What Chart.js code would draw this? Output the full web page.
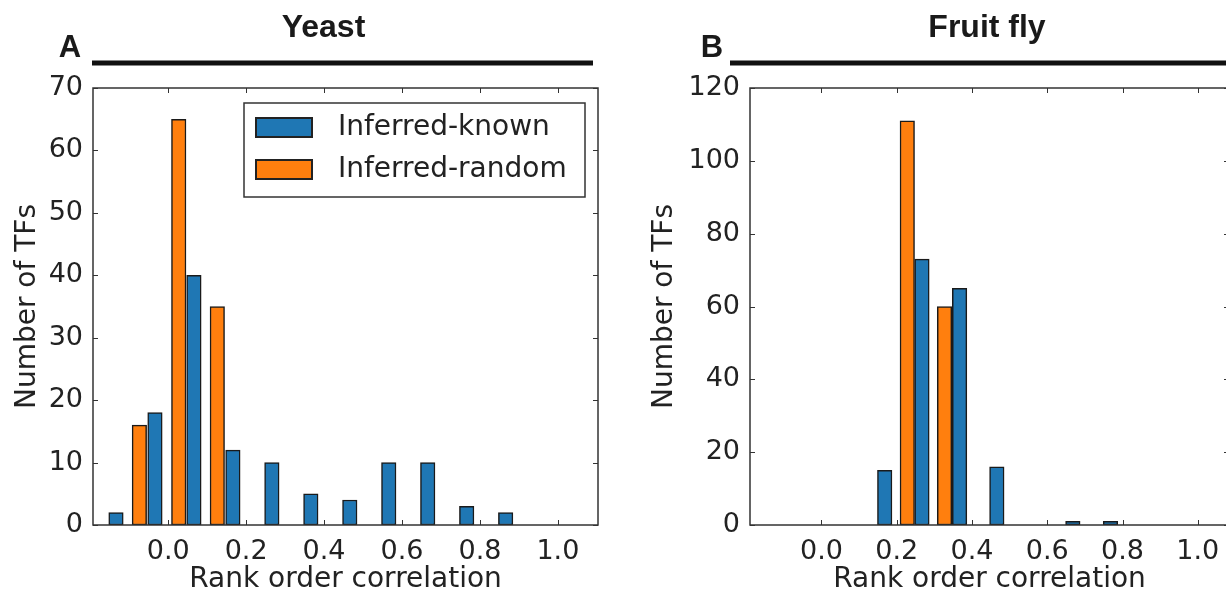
<!DOCTYPE html>
<html><head><meta charset="utf-8">
<script src="https://cdn.jsdelivr.net/npm/chart.js@4/dist/chart.umd.min.js"></script>
<style>
html,body{margin:0;padding:0;background:#fff;width:1226px;height:594px;overflow:hidden;}
#wrap{position:relative;width:1226px;height:594px;overflow:hidden;}
#cA{position:absolute;left:0;top:0;}
#cB{position:absolute;left:615px;top:0;}
</style></head><body>
<div id="wrap"><canvas id="cA" width="615" height="594"></canvas><canvas id="cB" width="626" height="594"></canvas></div>
<script>
// ---- data ----
const seriesNames = ['Inferred-known', 'Inferred-random'];
const seriesColors = ['#1f77b4', '#ff7f0e'];
const yeastKnownX = [-0.134, -0.034, 0.066, 0.166, 0.266, 0.366, 0.466, 0.566, 0.666, 0.766, 0.866];
const yeastKnownY = [2, 18, 40, 12, 10, 5, 4, 10, 10, 3, 2];
const yeastRandomX = [-0.074, 0.027, 0.126];
const yeastRandomY = [16, 65, 35];
const flyKnownX = [0.168, 0.267, 0.367, 0.466, 0.668, 0.768];
const flyKnownY = [15, 73, 65, 16, 1, 1];
const flyRandomX = [0.228, 0.327];
const flyRandomY = [111, 60];
const xTickValues = [0.0, 0.2, 0.4, 0.6, 0.8, 1.0];
const yeastYTicks = [0, 10, 20, 30, 40, 50, 60, 70];
const flyYTicks = [0, 20, 40, 60, 80, 100, 120];

const FONT = "'DejaVu Sans', sans-serif";
const BOLD = "'Liberation Sans', Arial, sans-serif";
const TXT = '#222';
const AXC = '#333';

function makeSwatch(color) {
  const c = document.createElement('canvas');
  c.width = 58; c.height = 21;
  const g = c.getContext('2d');
  g.fillStyle = color; g.fillRect(0, 0, 58, 21);
  g.strokeStyle = '#222'; g.lineWidth = 2; g.strokeRect(1, 1, 56, 19);
  return c;
}

function pts(xs, ys) { return xs.map((x, i) => ({x: x, y: ys[i]})); }

function makePanel(canvasId, p) {
  const canvas = document.getElementById(canvasId);
  const swatches = seriesColors.map(makeSwatch);
  const panelPlugin = {
    id: 'panelDeco',
    afterLayout(chart) {
      chart.boxes.forEach(b => {
        if (!b.options || b.options.labels) return;
        if (b.options.text === p.title) {
          b.left = p.titleX - 200; b.right = p.titleX + 200; b.width = 400;
          b.top = p.titleCY - b.height / 2; b.bottom = b.top + b.height;
        } else if (b.options.text === p.letter) {
          b.left = p.letterX - 40; b.right = p.letterX + 40; b.width = 80;
          b.top = p.letterCY - b.height / 2; b.bottom = b.top + b.height;
        }
      });
      if (p.legend && chart.legend) {
        const L = chart.legend;
        L.left = p.legend.x - 14; L.top = p.legend.y; L.right = p.legend.x + 360; L.bottom = p.legend.y + 200;
        L.width = L.right - L.left; L.height = L.bottom - L.top;
      }
    },
    afterDraw(chart) {
      const ctx = chart.ctx;
      const {left, right, top, bottom} = chart.chartArea;
      const xs = chart.scales.x, ys = chart.scales.y;
      ctx.save();
      // title rule
      ctx.strokeStyle = '#111'; ctx.lineWidth = 5; ctx.lineCap = 'butt';
      ctx.beginPath(); ctx.moveTo(p.ruleX0, 63); ctx.lineTo(p.ruleX1, 63); ctx.stroke();
      // frame
      ctx.strokeStyle = AXC; ctx.lineWidth = 1.5;
      ctx.strokeRect(left, top, right - left, bottom - top);
      // inward ticks
      ctx.lineWidth = 1;
      ctx.beginPath();
      xs.ticks.forEach(t => {
        const px = Math.round(xs.getPixelForValue(t.value)) + 0.5;
        ctx.moveTo(px, bottom); ctx.lineTo(px, bottom - 5);
        ctx.moveTo(px, top); ctx.lineTo(px, top + 5);
      });
      ys.ticks.forEach(t => {
        const py = Math.round(ys.getPixelForValue(t.value)) + 0.5;
        ctx.moveTo(left, py); ctx.lineTo(left + 5, py);
        ctx.moveTo(right, py); ctx.lineTo(right - 5, py);
      });
      ctx.stroke();
      // legend frame
      if (p.legend) {
        ctx.strokeStyle = AXC; ctx.lineWidth = 1.5;
        ctx.strokeRect(p.legend.bx, p.legend.by, p.legend.bw, p.legend.bh);
      }
      ctx.restore();
    }
  };

  return new Chart(canvas, {
    type: 'bar',
    data: {
      datasets: [
        {label: seriesNames[0], data: pts(p.knownX, p.knownY), backgroundColor: seriesColors[0]},
        {label: seriesNames[1], data: pts(p.randomX, p.randomY), backgroundColor: seriesColors[1]}
      ]
    },
    options: {
      responsive: false,
      animation: false,
      devicePixelRatio: 1,
      layout: {padding: {top: 88 - 38.4 - 37.2, right: canvas.width - p.plotRight, bottom: 0, left: 0}},
      datasets: {bar: {grouped: false, barThickness: 14.5, borderWidth: 1.5, borderColor: '#1a1a1a', borderSkipped: false}},
      plugins: {
        tooltip: {enabled: false},
        title: {display: true, text: p.title, color: '#1a1a1a', font: {family: BOLD, size: 32, weight: 'bold', lineHeight: 1.2}, padding: 0},
        subtitle: {display: true, text: p.letter, color: '#1a1a1a', font: {family: BOLD, size: 31, weight: 'bold', lineHeight: 1.2}, padding: 0},
        legend: p.legend ? {
          display: true, position: 'chartArea', align: 'start',
          labels: {
            usePointStyle: true, pointStyleWidth: 80, boxHeight: 21, padding: 14, textAlign: 'left',
            color: TXT, font: {family: FONT, size: 28},
            generateLabels(chart) {
              const items = Chart.defaults.plugins.legend.labels.generateLabels(chart);
              items.forEach((it, i) => { it.pointStyle = swatches[i]; });
              return items;
            }
          }
        } : {display: false}
      },
      scales: {
        x: {
          type: 'linear', min: p.xMin, max: p.xMax, offset: false,
          grid: {display: false, drawTicks: false}, border: {display: false},
          ticks: {color: TXT, font: {family: FONT, size: 27}, padding: 11, autoSkip: false, maxRotation: 0,
                  callback: v => Number(v).toFixed(1)},
          afterBuildTicks: s => { s.ticks = xTickValues.map(v => ({value: v})); },
          afterFit: s => { s.height = 594 - 525; },
          title: {display: true, text: 'Rank order correlation', color: TXT, font: {family: FONT, size: 28, lineHeight: 1.2}, padding: {top: 0, bottom: -2.5}}
        },
        y: {
          type: 'linear', min: 0, max: p.yTicks[p.yTicks.length - 1],
          grid: {display: false, drawTicks: false}, border: {display: false},
          ticks: {color: TXT, font: {family: FONT, size: 27}, padding: 10, autoSkip: false},
          afterBuildTicks: s => { s.ticks = p.yTicks.map(v => ({value: v})); },
          afterFit: s => { s.width = p.yAxisWidth; },
          title: {display: true, text: 'Number of TFs', color: TXT, font: {family: FONT, size: 28, lineHeight: 1.2}, padding: {top: p.yTitlePad, bottom: 0}}
        }
      }
    },
    plugins: [panelPlugin]
  });
}

makePanel('cA', {
  title: 'Yeast', letter: 'A', titleX: 323.5, titleCY: 28, letterX: 70, letterCY: 48,
  ruleX0: 92, ruleX1: 593, plotRight: 598, yAxisWidth: 93, yTitlePad: 11,
  xMin: -0.193, xMax: 1.103, yTicks: yeastYTicks,
  knownX: yeastKnownX, knownY: yeastKnownY, randomX: yeastRandomX, randomY: yeastRandomY,
  legend: {x: 244, y: 99.5, bx: 244, by: 103, bw: 341, bh: 94}
});

makePanel('cB', {
  title: 'Fruit fly', letter: 'B', titleX: 987 - 615, titleCY: 28, letterX: 712 - 615, letterCY: 48,
  ruleX0: 730 - 615, ruleX1: 626, plotRight: 1229 - 615, yAxisWidth: 750 - 615, yTitlePad: 32.5,
  xMin: -0.19, xMax: 1.083, yTicks: flyYTicks,
  knownX: flyKnownX, knownY: flyKnownY, randomX: flyRandomX, randomY: flyRandomY,
  legend: null
});
</script>
</body></html>
